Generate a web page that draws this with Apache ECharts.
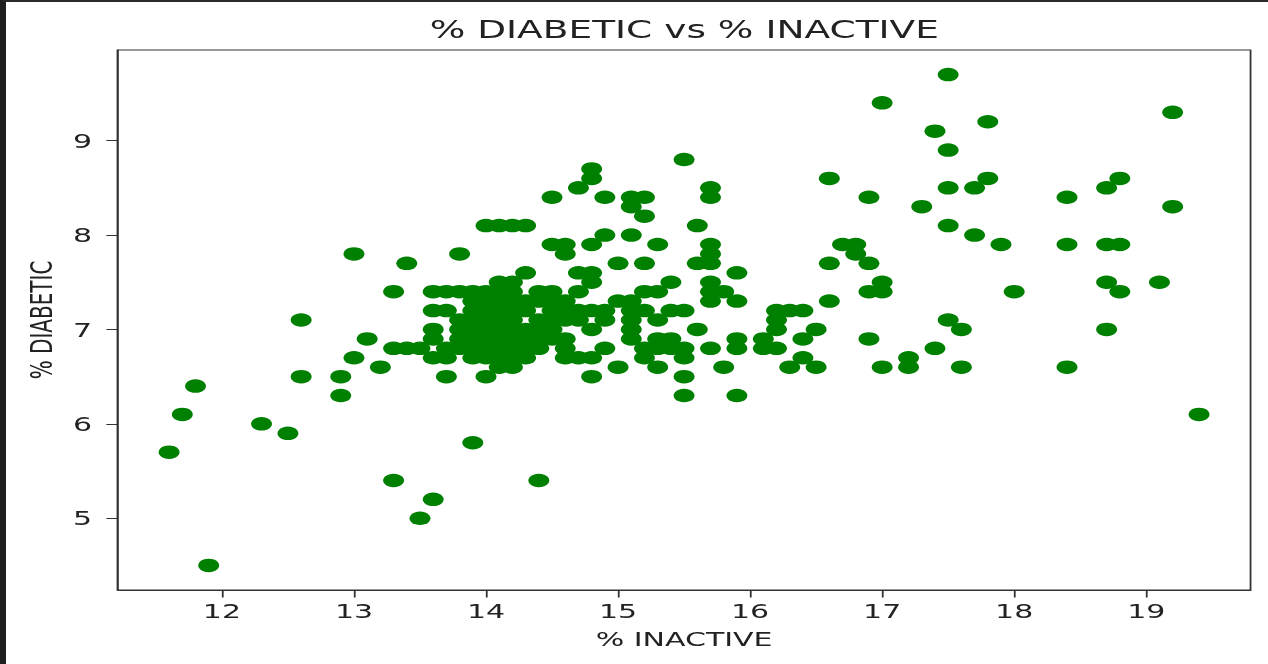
<!DOCTYPE html>
<html>
<head>
<meta charset="utf-8">
<script src="https://cdn.jsdelivr.net/npm/echarts@6/dist/echarts.min.js"></script>
<style>
  html, body { margin: 0; padding: 0; background: #fff; }
  #frame { position: relative; width: 1268px; height: 664px; overflow: hidden; background: #fff; }
  /* the source picture is a matplotlib figure stretched sideways, so the chart is drawn narrow and widened */
  #chart { position: absolute; left: 0; top: 0; width: 845.33px; height: 664px; transform: scaleX(1.5); transform-origin: 0 0; filter: blur(0.4px); }
  #edge { position: absolute; left: 0; top: 0; width: 1262px; height: 662px; border-left: 6px solid #1e1e1e; border-top: 2px solid #2a2a2a; pointer-events: none; }
</style>
</head>
<body>
<div id="frame">
  <div id="chart"></div>
  <div id="edge"></div>
</div>
<script>
// [% inactive, % diabetic]
const lowTail = [
  [11.6, 5.7], [11.7, 6.1], [11.8, 6.4], [11.9, 4.5], [12.3, 6.0], [12.5, 5.9],
  [12.6, 6.5], [12.6, 7.1], [12.9, 6.5], [12.9, 6.3], [13.0, 6.7], [13.1, 6.9],
  [13.2, 6.6], [13.3, 6.8], [13.4, 6.8], [13.5, 6.8], [13.3, 5.4], [13.6, 5.2],
  [13.5, 5.0], [13.9, 5.8], [14.4, 5.4], [13.7, 6.5], [14.0, 6.5], [13.0, 7.8],
  [13.4, 7.7], [13.3, 7.4], [13.8, 7.8]
]

const upperBand = [
  [14.0, 8.1], [14.1, 8.1], [14.2, 8.1], [14.3, 8.1], [14.5, 8.4], [14.7, 8.5],
  [14.8, 8.7], [14.8, 8.6], [14.9, 8.4], [15.1, 8.4], [15.2, 8.4], [15.1, 8.3],
  [15.2, 8.2], [14.5, 7.9], [14.6, 7.9], [14.6, 7.8], [14.8, 7.9], [14.9, 8.0],
  [15.1, 8.0], [15.3, 7.9], [15.0, 7.7], [15.2, 7.7], [14.3, 7.6], [14.1, 7.5],
  [14.2, 7.5], [14.7, 7.6], [14.8, 7.6], [14.8, 7.5], [15.4, 7.5], [15.5, 8.8]
]

const cluster = [
  [13.6, 7.4], [13.7, 7.4], [13.8, 7.4], [13.9, 7.4], [14.0, 7.4], [14.1, 7.4], [14.2, 7.4], [14.4, 7.4], [14.5, 7.4],
  [13.9, 7.3], [14.0, 7.3], [14.1, 7.3], [14.2, 7.3], [14.3, 7.3], [14.4, 7.3], [14.5, 7.3], [14.6, 7.3],
  [13.6, 7.2], [13.7, 7.2], [13.9, 7.2], [14.0, 7.2], [14.1, 7.2], [14.2, 7.2], [14.3, 7.2], [14.5, 7.2], [14.6, 7.2],
  [13.8, 7.1], [13.9, 7.1], [14.0, 7.1], [14.1, 7.1], [14.2, 7.1], [14.4, 7.1], [14.5, 7.1], [14.6, 7.1],
  [13.6, 7.0], [13.8, 7.0], [13.9, 7.0], [14.0, 7.0], [14.1, 7.0], [14.2, 7.0], [14.3, 7.0], [14.4, 7.0], [14.5, 7.0],
  [13.6, 6.9], [13.8, 6.9], [13.9, 6.9], [14.0, 6.9], [14.1, 6.9], [14.2, 6.9], [14.3, 6.9], [14.4, 6.9], [14.5, 6.9], [14.6, 6.9],
  [13.7, 6.8], [13.8, 6.8], [13.9, 6.8], [14.0, 6.8], [14.1, 6.8], [14.2, 6.8], [14.3, 6.8], [14.4, 6.8], [14.6, 6.8],
  [13.6, 6.7], [13.7, 6.7], [13.9, 6.7], [14.0, 6.7], [14.1, 6.7], [14.2, 6.7], [14.3, 6.7], [14.6, 6.7],
  [14.1, 6.6], [14.2, 6.6]
]

const middle = [
  [14.7, 7.4], [14.7, 7.2], [14.8, 7.2], [14.9, 7.2], [14.7, 7.1], [14.9, 7.1], [14.8, 7.0],
  [14.7, 6.7], [14.8, 6.7], [14.9, 6.8], [14.8, 6.5], [15.0, 6.6], [15.0, 7.3], [15.1, 7.3],
  [15.1, 7.2], [15.1, 7.1], [15.1, 7.0], [15.1, 6.9], [15.2, 7.4], [15.3, 7.4], [15.2, 7.2],
  [15.3, 7.1], [15.4, 7.2], [15.5, 7.2], [15.3, 6.9], [15.4, 6.9], [15.2, 6.8], [15.3, 6.8],
  [15.4, 6.8], [15.5, 6.8], [15.2, 6.7], [15.3, 6.6], [15.5, 6.7], [15.5, 6.5], [15.5, 6.3],
  [15.6, 7.0], [15.7, 6.8], [15.9, 6.9], [15.9, 6.8], [15.8, 6.6], [15.9, 6.3], [15.7, 8.5],
  [15.7, 8.4], [15.6, 8.1], [15.7, 7.9], [15.7, 7.8], [15.6, 7.7], [15.7, 7.7], [15.9, 7.6],
  [15.7, 7.5], [15.8, 7.4], [15.7, 7.4], [15.7, 7.3], [15.9, 7.3]
]

const rightMid = [
  [16.1, 6.9], [16.1, 6.8], [16.2, 6.8], [16.2, 7.2], [16.3, 7.2], [16.4, 7.2], [16.2, 7.1],
  [16.2, 7.0], [16.4, 6.9], [16.5, 7.0], [16.3, 6.6], [16.4, 6.7], [16.5, 6.6], [16.6, 8.6],
  [16.9, 8.4], [16.7, 7.9], [16.8, 7.9], [16.8, 7.8], [16.6, 7.7], [16.9, 7.7], [16.6, 7.3],
  [16.9, 7.4], [17.0, 7.5], [17.0, 7.4], [16.9, 6.9], [17.0, 6.6], [17.2, 6.6], [17.2, 6.7],
  [17.4, 6.8]
]

const farRight = [
  [17.5, 9.7], [17.0, 9.4], [19.2, 9.3], [17.8, 9.2], [17.4, 9.1], [17.5, 8.9], [17.5, 8.5],
  [17.7, 8.5], [17.8, 8.6], [18.7, 8.5], [18.8, 8.6], [18.4, 8.4], [17.3, 8.3], [19.2, 8.3],
  [17.5, 8.1], [17.7, 8.0], [17.9, 7.9], [18.4, 7.9], [18.7, 7.9], [18.8, 7.9], [18.7, 7.5],
  [18.8, 7.4], [19.1, 7.5], [18.0, 7.4], [17.5, 7.1], [17.6, 7.0], [18.7, 7.0], [18.4, 6.6],
  [17.6, 6.6], [19.4, 6.1]
]

const xTicks = [12, 13, 14, 15, 16, 17, 18, 19]
const yTicks = [5, 6, 7, 8, 9]

const font = 'DejaVu Sans'
const ink = '#222'

const points = [].concat(lowTail, upperBand, cluster, middle, rightMid, farRight)

const chart = echarts.init(document.getElementById('chart'), null, { renderer: 'svg' })

chart.setOption({
  animation: false,
  title: {
    text: '% DIABETIC vs % INACTIVE',
    left: 456.2,
    top: 17,
    padding: 0,
    textAlign: 'center',
    textStyle: { fontFamily: font, fontSize: 25, fontWeight: 'normal', color: ink },
  },
  grid: { left: 78.4, right: 11.3, top: 50, bottom: 74, show: true, borderColor: '#333', borderWidth: 1.2 },
  xAxis: {
    type: 'value',
    min: 11.21,
    max: 19.79,
    name: '% INACTIVE',
    nameLocation: 'middle',
    nameGap: 39,
    nameTextStyle: { fontFamily: font, fontSize: 20, color: ink },
    axisLine: { show: true, lineStyle: { color: '#333', width: 1.2 } },
    axisTick: { show: true, length: 7.5, lineStyle: { color: '#333', width: 1.2 }, customValues: xTicks },
    axisLabel: { margin: 11, fontFamily: font, fontSize: 20, color: ink, customValues: xTicks },
    splitLine: { show: false },
  },
  yAxis: {
    type: 'value',
    min: 4.24,
    max: 9.96,
    name: '% DIABETIC',
    nameLocation: 'middle',
    nameGap: 39,
    nameTextStyle: { fontFamily: font, fontSize: 20, color: ink },
    axisLine: { show: true, lineStyle: { color: '#333', width: 1.2 } },
    axisTick: { show: true, length: 7.5, lineStyle: { color: '#333', width: 1.2 }, customValues: yTicks },
    axisLabel: { margin: 17, fontFamily: font, fontSize: 20, color: ink, customValues: yTicks },
    splitLine: { show: false },
  },
  series: [
    {
      type: 'scatter',
      data: points,
      symbol: 'circle',
      symbolSize: [14, 13.5],
      itemStyle: { color: '#008000', opacity: 1 },
    },
  ],
})
</script>
</body>
</html>
